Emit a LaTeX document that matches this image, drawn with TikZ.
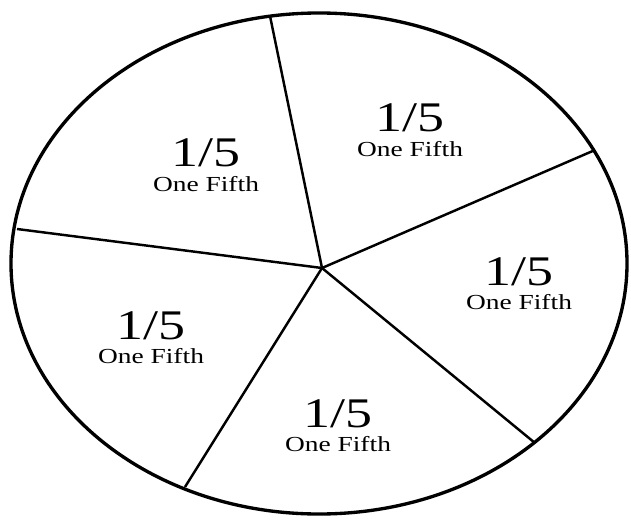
\documentclass[tikz,border=0pt]{standalone}
\usepackage{fontspec}
\setmainfont{Liberation Serif}
\newfontfamily\widefont[FakeStretch=1.28]{Liberation Serif}
\tikzset{
  frac/.style={font=\widefont\fontsize{24}{25}\selectfont, inner sep=0pt, anchor=base},
  word/.style={font=\widefont\fontsize{12.2}{13}\selectfont, inner sep=0pt, anchor=base},
}
\begin{document}
\begin{tikzpicture}[x=0.02cm, y=-0.02cm, line width=1.9pt]
  \useasboundingbox (0,0) rectangle (631,520);
  \draw (319,263.5) ellipse [x radius=308, y radius=250.5];
  % hub and the five cuts on the rim
  \coordinate (hub) at (322,268);
  \coordinate (top) at (270,16);
  \coordinate (upright) at (595,150);
  \coordinate (lowright) at (535,443);
  \coordinate (lowleft) at (185,487);
  \coordinate (left) at (17,229);
  \foreach \e in {top,upright,lowright,lowleft,left} \draw[line width=1.4pt] (hub) -- (\e);
  % labels, one per slice
  \foreach \i/\x/\y in {1/410/132, 2/206/167, 3/519/285, 4/151/339, 5/338/427} {
    \node[frac] (f\i) at (\x,\y) {1/5};
    \node[word] (w\i) at ([yshift=-14.2pt]f\i.base) {One Fifth};
  }
\end{tikzpicture}
\end{document}
